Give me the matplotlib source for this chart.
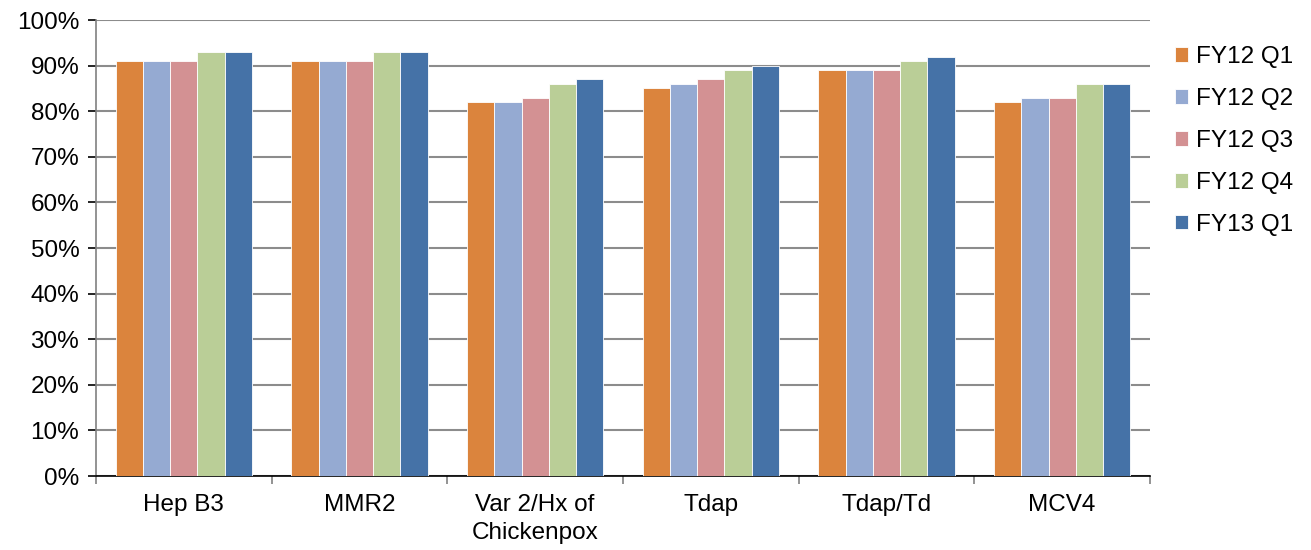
import matplotlib.pyplot as plt
import numpy as np
from matplotlib.ticker import PercentFormatter

plt.rcParams['font.family'] = ['Liberation Sans', 'DejaVu Sans']

categories = ['Hep B3', 'MMR2', 'Var 2/Hx of\nChickenpox', 'Tdap', 'Tdap/Td', 'MCV4']
series_names = ['FY12 Q1', 'FY12 Q2', 'FY12 Q3', 'FY12 Q4', 'FY13 Q1']
fy12_q1 = [91, 91, 82, 85, 89, 82]
fy12_q2 = [91, 91, 82, 86, 89, 83]
fy12_q3 = [91, 91, 83, 87, 89, 83]
fy12_q4 = [93, 93, 86, 89, 91, 86]
fy13_q1 = [93, 93, 87, 90, 92, 86]
colors = ['#DB843D', '#95AAD2', '#D39193', '#BACE97', '#4572A7']

values = [fy12_q1, fy12_q2, fy12_q3, fy12_q4, fy13_q1]

fig = plt.figure(figsize=(13.11, 5.5), dpi=100)
ax = fig.add_axes([0.0732, 0.1345, 0.8040, 0.8291])

x = np.arange(len(categories))
w = 0.155
for i, (name, vals) in enumerate(zip(series_names, values)):
    ax.bar(x + (i - 2) * w, vals, width=w, color=colors[i], label=name,
           edgecolor='white', linewidth=0.6, zorder=3)

ax.set_ylim(0, 100)
ax.set_yticks(np.arange(0, 101, 10))
ax.yaxis.set_major_formatter(PercentFormatter(decimals=0))
ax.set_xlim(-0.5, len(categories) - 0.5)
ax.set_xticks(x)
ax.set_xticklabels(categories, linespacing=1.35)
ax.set_xticks(np.arange(-0.5, len(categories), 1), minor=True)
ax.tick_params(axis='x', which='major', length=0, pad=13, labelsize=17.5)
ax.tick_params(axis='x', which='minor', length=6, width=1.2, color='#808080')
ax.tick_params(axis='y', length=6, width=1.2, color='#000000', labelsize=17.5, pad=6)

ax.grid(axis='y', color='#8C8C8C', linewidth=1.5, zorder=0)
for s in ['top', 'right']:
    ax.spines[s].set_visible(False)
ax.spines['left'].set_color('#808080')
ax.spines['left'].set_linewidth(1.2)
ax.spines['bottom'].set_color('#000000')
ax.spines['bottom'].set_linewidth(1.2)

ax.legend(loc='center left', bbox_to_anchor=(1.003, 0.735), frameon=False,
          fontsize=17.5, handlelength=0.55, handleheight=0.55, handletextpad=0.3,
          labelspacing=0.82)

plt.savefig('out.png', dpi=100)
